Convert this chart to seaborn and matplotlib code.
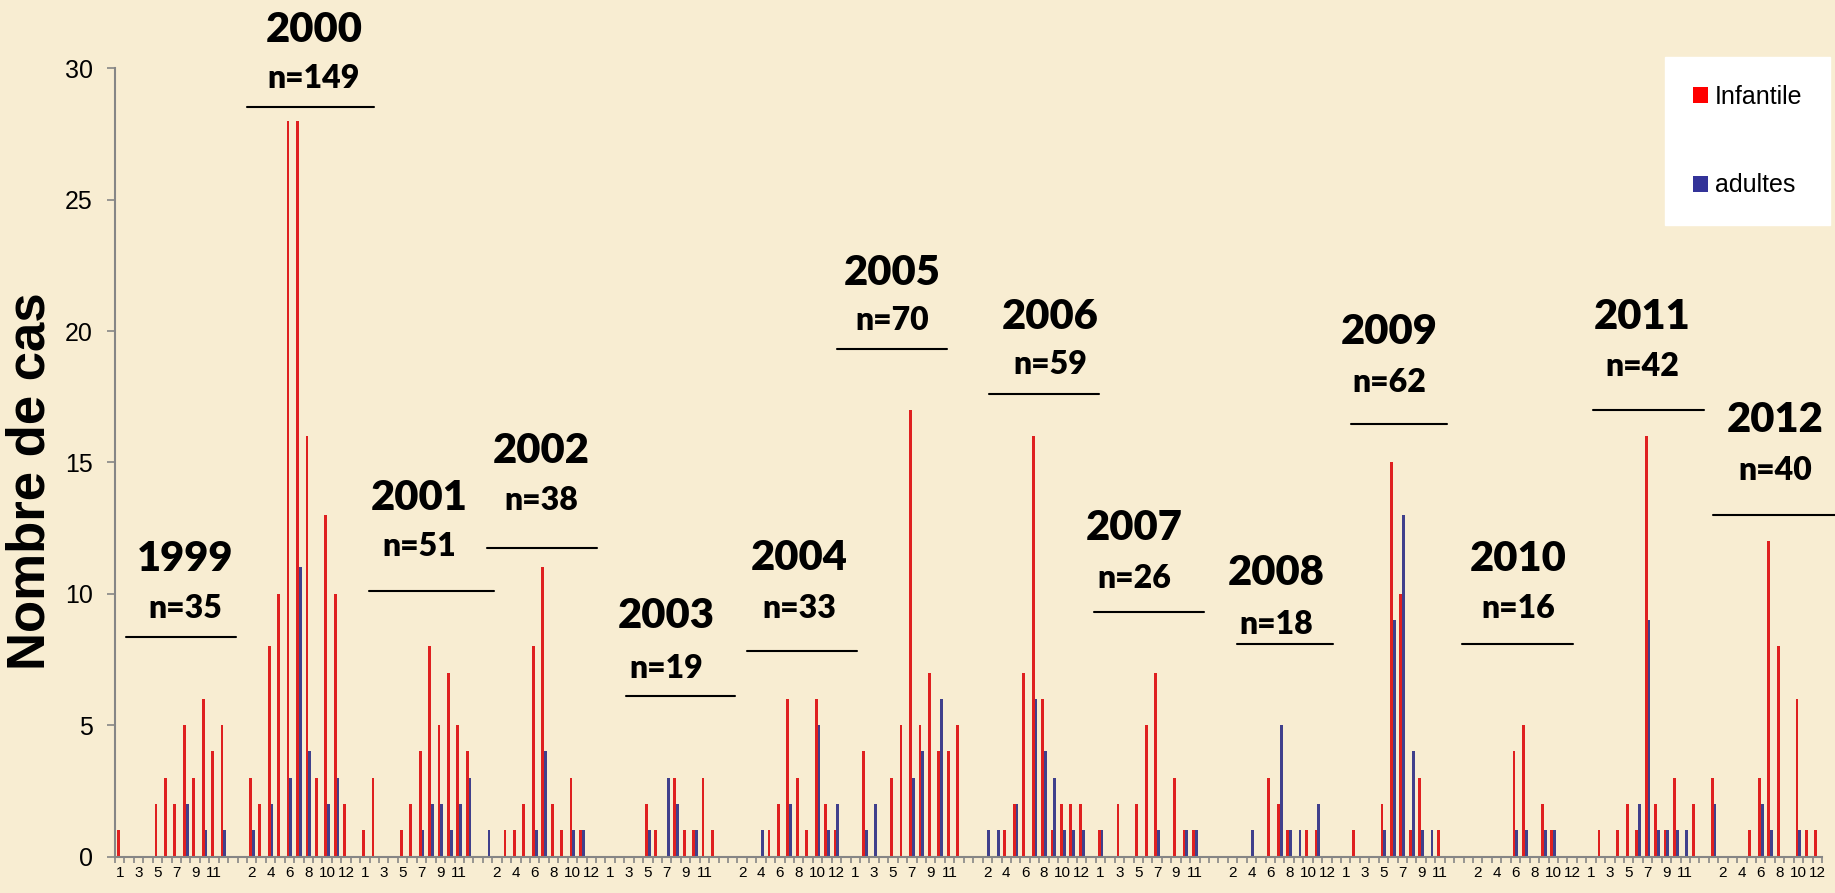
import numpy as np
import pandas as pd
import matplotlib.pyplot as plt
from matplotlib.patches import Patch
from matplotlib.lines import Line2D
import seaborn as sns

# ---- data (monthly cases per year, Jan..Dec) ----
years = [1999, 2000, 2001, 2002, 2003, 2004, 2005, 2006, 2007, 2008, 2009, 2010, 2011, 2012]
n_cases = [35, 149, 51, 38, 19, 33, 70, 59, 26, 18, 62, 16, 42, 40]

infantile = [
    [1, 0, 0, 0, 2, 3, 2, 5, 3, 6, 4, 5],
    [0, 3, 2, 8, 10, 28, 28, 16, 3, 13, 10, 2],
    [1, 3, 0, 0, 1, 2, 4, 8, 5, 7, 5, 4],
    [0, 0, 1, 1, 2, 8, 11, 2, 1, 3, 1, 0],
    [0, 0, 0, 0, 2, 1, 0, 3, 1, 1, 3, 1],
    [0, 0, 0, 0, 1, 2, 6, 3, 1, 6, 2, 1],
    [0, 4, 0, 0, 3, 5, 17, 5, 7, 4, 4, 5],
    [0, 0, 0, 1, 2, 7, 16, 6, 1, 2, 2, 2],
    [1, 0, 2, 0, 2, 5, 7, 0, 3, 1, 1, 0],
    [0, 0, 0, 0, 0, 3, 2, 1, 0, 1, 1, 0],
    [0, 1, 0, 0, 2, 15, 10, 1, 3, 0, 1, 0],
    [0, 0, 0, 0, 0, 4, 5, 0, 2, 1, 0, 0],
    [0, 1, 0, 1, 2, 1, 16, 2, 1, 3, 0, 2],
    [3, 0, 0, 0, 1, 3, 12, 8, 0, 6, 1, 1],
]
adultes = [
    [0, 0, 0, 0, 0, 0, 0, 2, 0, 1, 0, 1],
    [0, 1, 0, 2, 0, 3, 11, 4, 0, 2, 3, 0],
    [0, 0, 0, 0, 0, 0, 1, 2, 2, 1, 2, 3],
    [1, 0, 0, 0, 0, 1, 4, 0, 0, 1, 1, 0],
    [0, 0, 0, 0, 1, 0, 3, 2, 0, 1, 0, 0],
    [0, 0, 0, 1, 0, 0, 2, 0, 0, 5, 1, 2],
    [0, 1, 2, 0, 0, 0, 3, 4, 0, 6, 0, 0],
    [0, 1, 1, 0, 2, 0, 6, 4, 3, 1, 1, 1],
    [1, 0, 0, 0, 0, 0, 1, 0, 0, 1, 1, 0],
    [0, 0, 0, 1, 0, 0, 5, 1, 1, 0, 2, 0],
    [0, 0, 0, 0, 1, 9, 13, 4, 1, 1, 0, 0],
    [0, 0, 0, 0, 0, 1, 1, 0, 1, 1, 0, 0],
    [0, 0, 0, 0, 0, 2, 9, 1, 1, 1, 1, 0],
    [2, 0, 0, 0, 0, 2, 1, 0, 0, 1, 0, 0],
]
colors = {"Infantile": "#FF0000", "adultes": "#333399"}

# ---- layout of the year annotations (figure pixels) ----
W, H = 1835, 893
label_x = [185, 314, 419, 541, 666, 799, 892, 1050, 1134, 1276, 1389, 1518, 1642, 1775]
year_y = [556, 27, 495, 448, 613, 555, 270, 314, 525, 570, 329, 556, 314, 417]
n_y = [607, 77, 545, 499, 666, 607, 318, 362, 576, 623, 380, 606, 364, 469]
line_y = [637, 107, 591, 548, 696, 651, 349, 394, 612, 644, 424, 644, 410, 515]
line_x = [(126, 236), (247, 374), (369, 494), (487, 597), (626, 735), (747, 857),
          (837, 947), (989, 1099), (1094, 1204), (1237, 1333), (1351, 1447),
          (1462, 1573), (1593, 1704), (1713, 1835)]

# long table: 12 months per year + one empty slot between years
rows = []
pos = 0
for k in range(len(years)):
    for m in range(12):
        rows.append({"pos": pos, "serie": "Infantile", "cas": infantile[k][m]})
        rows.append({"pos": pos, "serie": "adultes", "cas": adultes[k][m]})
        pos += 1
    if k < len(years) - 1:
        rows.append({"pos": pos, "serie": "Infantile", "cas": 0})
        rows.append({"pos": pos, "serie": "adultes", "cas": 0})
        pos += 1
df = pd.DataFrame(rows)
n_pos = pos

sns.set_style("ticks")
plt.rcParams["font.family"] = ["Liberation Sans", "DejaVu Sans"]
plt.rcParams["text.color"] = "black"

bg = "#F8EDD2"
fig = plt.figure(figsize=(W / 100, H / 100), dpi=100, facecolor=bg)
ax = fig.add_axes([115 / W, 1 - 856.5 / H, (1822 - 115) / W, (856.5 - 68.3) / H])
ax.set_facecolor(bg)

sns.barplot(data=df, x="pos", y="cas", hue="serie", hue_order=["Infantile", "adultes"],
            palette=colors, width=0.6, dodge=True, linewidth=0, errorbar=None,
            legend=False, ax=ax)

ax.set_xlim(-0.5, n_pos - 0.5)
ax.set_ylim(0, 30)
ax.set_yticks(range(0, 31, 5))
ax.tick_params(axis="y", labelsize=18, length=6, width=1.2, color="#868686",
               labelcolor="black", pad=10)

# month labels on every other slot, tick marks between slots
major = list(range(0, n_pos, 2))
labels = [str(p % 13 + 1) if p % 13 < 12 else "" for p in major]
ax.set_xticks(major)
ax.set_xticklabels(labels)
ax.set_xticks(np.arange(-0.5, n_pos, 1), minor=True)
ax.tick_params(axis="x", which="major", length=0, labelsize=11, labelcolor="black", pad=7)
ax.tick_params(axis="x", which="minor", length=4, width=1.2, color="#868686")
ax.set_xlabel("")
ax.set_ylabel("")

sns.despine(ax=ax)
for side in ["left", "bottom"]:
    ax.spines[side].set_color("#868686")
    ax.spines[side].set_linewidth(1.5)

fig.text(31 / W, 1 - 481 / H, "Nombre de cas", rotation=90, ha="center", va="center",
         fontsize=38, fontweight="bold", color="black")

# year / n annotations with underline
for k, yr in enumerate(years):
    x = label_x[k] / W
    fig.text(x, 1 - (year_y[k] + 15) / H, str(yr), ha="center", va="baseline",
             fontsize=30, fontweight="heavy", color="black", family=["Lato", "DejaVu Sans"])
    fig.text(x, 1 - (n_y[k] + 11.5) / H, f"n={n_cases[k]}", ha="center", va="baseline",
             fontsize=23, fontweight="heavy", color="black", family=["Lato", "DejaVu Sans"])
    x0, x1 = line_x[k]
    fig.add_artist(Line2D([x0 / W, x1 / W], [1 - line_y[k] / H] * 2,
                          transform=fig.transFigure, color="black", lw=1.5))

handles = [Patch(facecolor=colors[s], edgecolor="none", label=s) for s in ["Infantile", "adultes"]]
leg = fig.legend(handles=handles, loc="upper left", bbox_to_anchor=(1665 / W, 1 - 57 / H),
                 fontsize=18, frameon=True, fancybox=False, framealpha=1,
                 handlelength=0.6, handleheight=0.6, handletextpad=0.3,
                 labelspacing=2.6, borderpad=1.1, borderaxespad=0)
leg.get_frame().set_facecolor("white")
leg.get_frame().set_edgecolor("white")
for t in leg.get_texts():
    t.set_color("black")

plt.savefig("out.png", dpi=100, facecolor=bg)
plt.close()
